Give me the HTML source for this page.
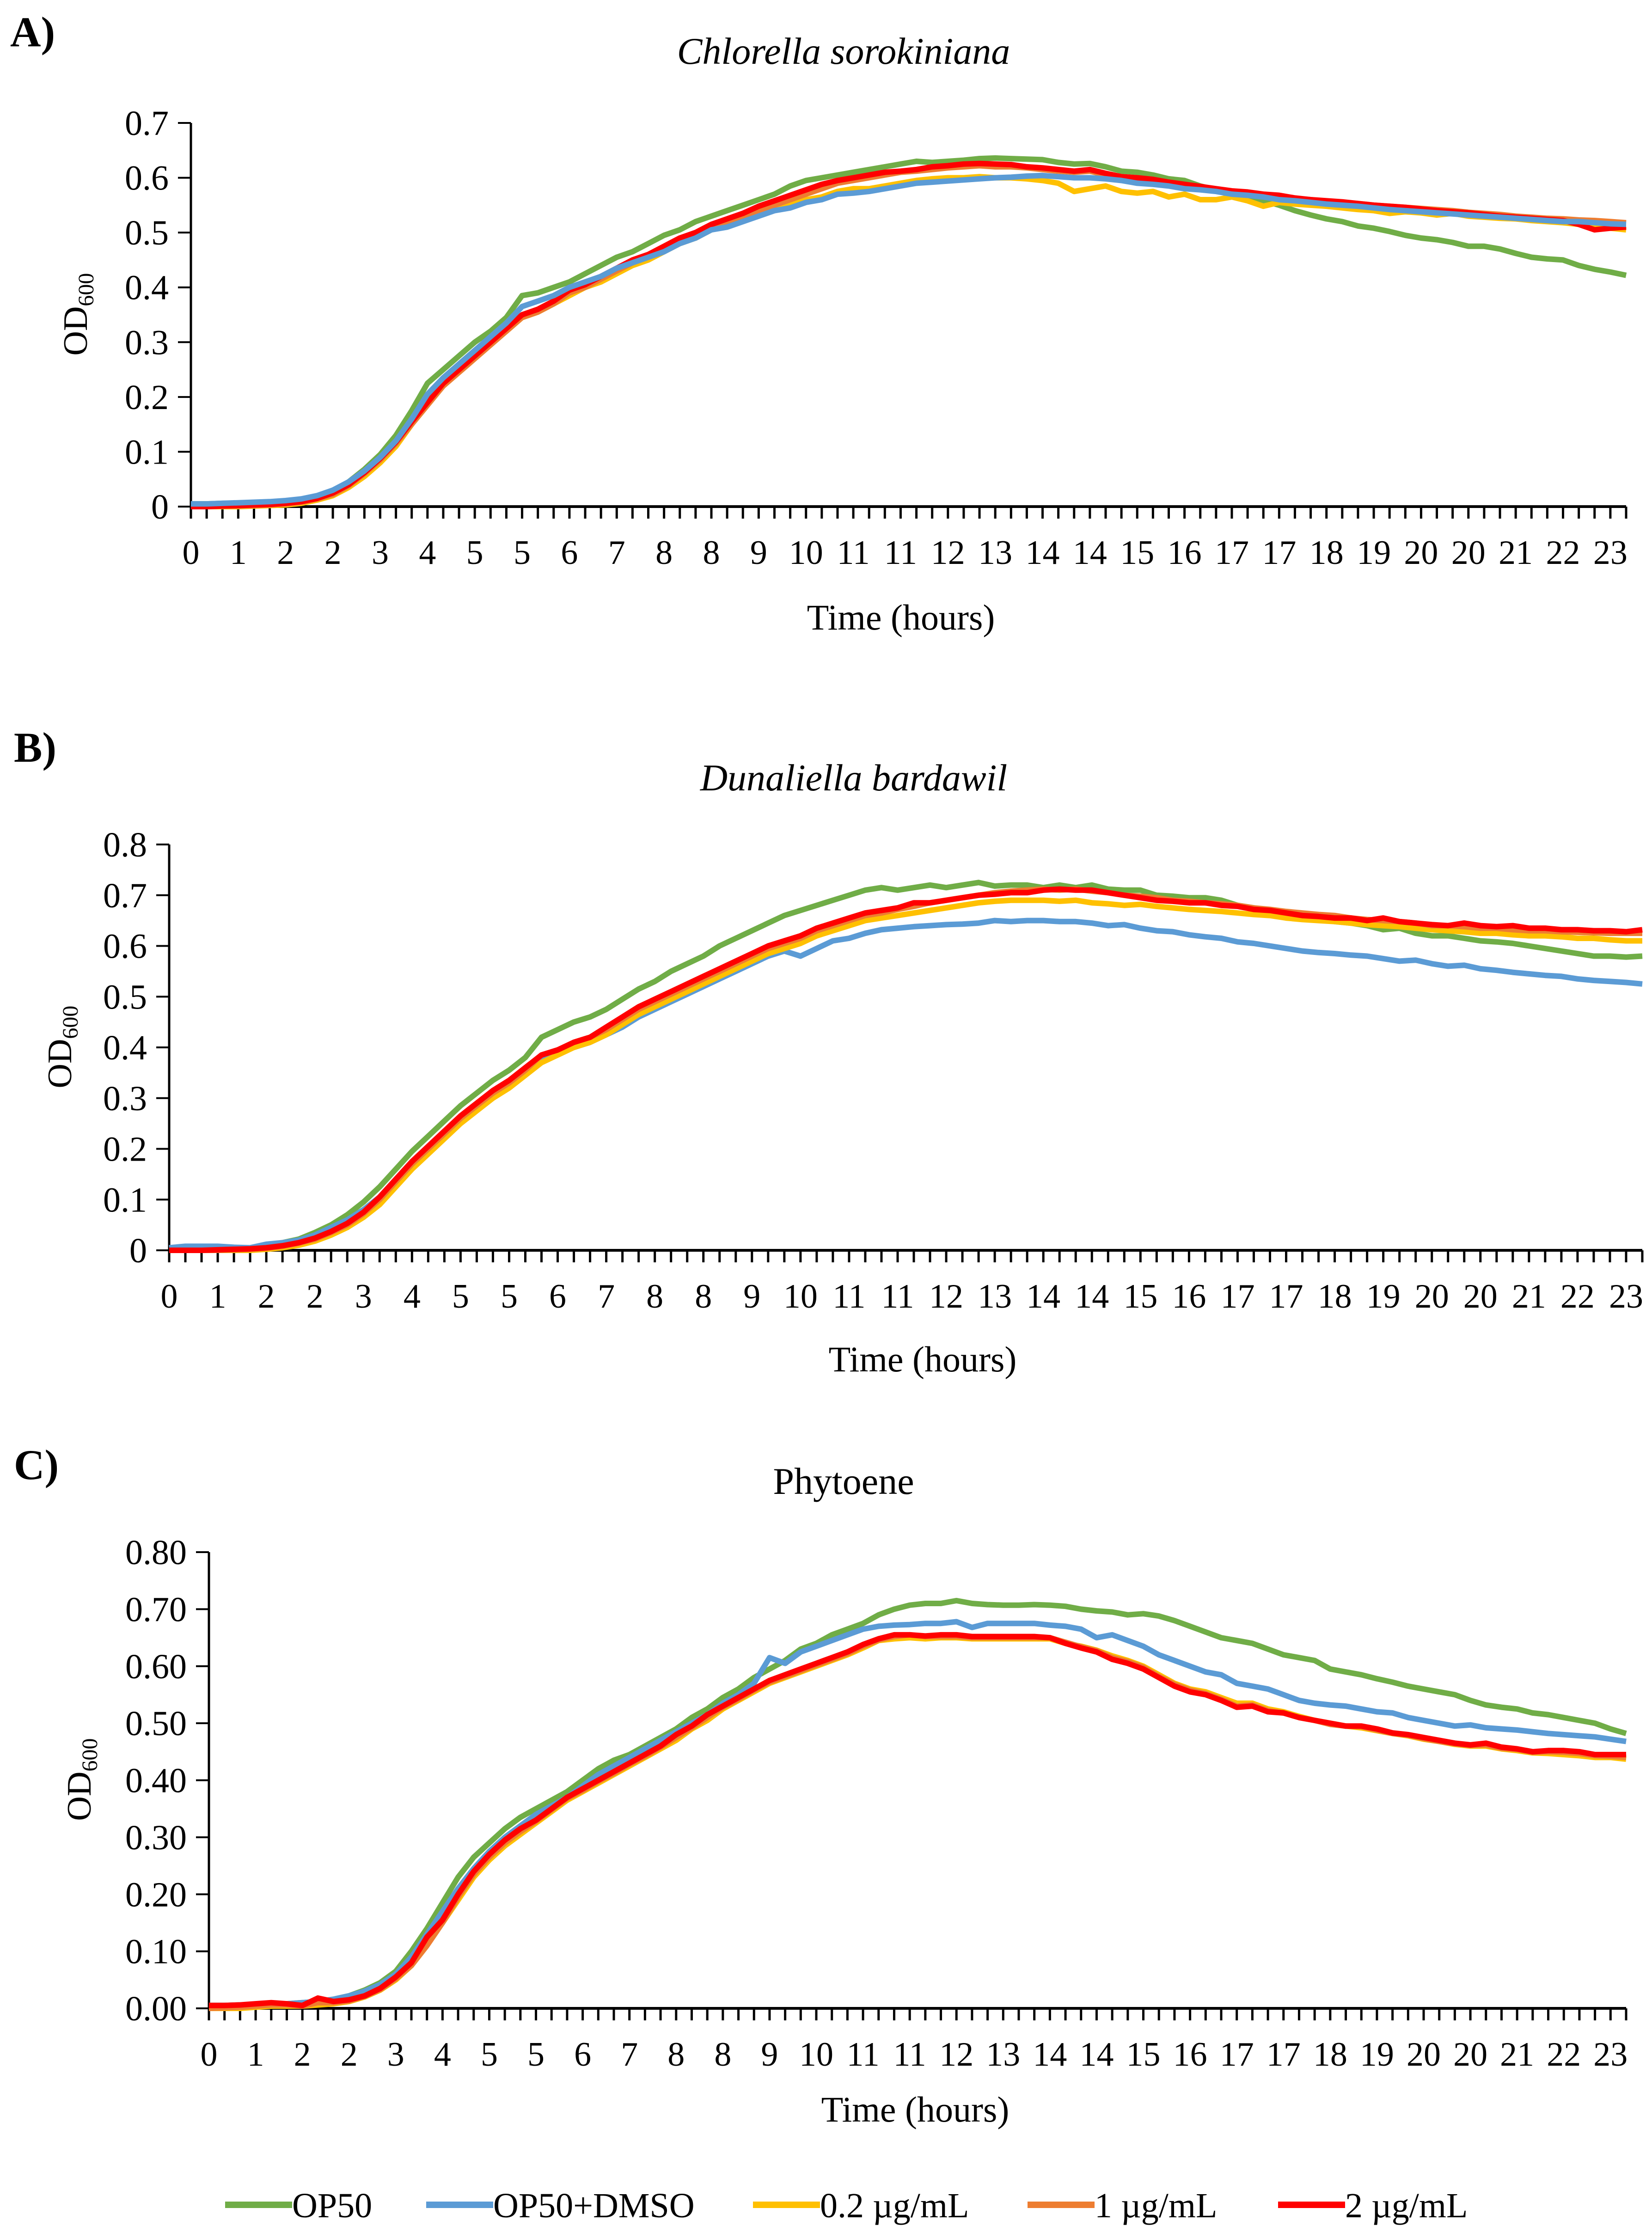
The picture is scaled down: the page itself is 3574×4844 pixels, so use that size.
<!DOCTYPE html>
<html><head><meta charset="utf-8"><style>
html,body{margin:0;padding:0;background:#fff;}
svg{display:block;font-family:"Liberation Serif",serif;}
text{font-family:"Liberation Serif",serif;}
</style></head><body>
<svg id="fig" width="3574" height="4844" viewBox="0 0 3574 4844" xmlns="http://www.w3.org/2000/svg">
<text x="22" y="100" font-size="92" font-weight="bold">A)</text>
<text x="30" y="1648" font-size="92" font-weight="bold">B)</text>
<text x="30" y="3200" font-size="92" font-weight="bold">C)</text>
<text x="1825" y="138" font-size="82" font-style="italic" text-anchor="middle">Chlorella sorokiniana</text>
<text x="1847" y="1710" font-size="82" font-style="italic" text-anchor="middle">Dunaliella bardawil</text>
<text x="1825" y="3232" font-size="82" text-anchor="middle">Phytoene</text>
<g id="legend"></g>
</svg>
<script>
const hoursPerPoint = 0.25;
const seriesNames = ["OP50","OP50+DMSO","0.2 µg/mL","1 µg/mL","2 µg/mL"];
const seriesColors = ["#70AD47","#5B9BD5","#FFC000","#ED7D31","#FF0000"];

const aGreen=[0.005,0.005,0.006,0.006,0.007,0.008,0.009,0.012,0.018,0.028,0.045,0.068,0.095,0.13,0.175,0.225,0.25,0.275,0.30,0.32,0.345,0.385,0.39,0.40,0.41,0.425,0.44,0.455,0.465,0.48,0.495,0.505,0.52,0.53,0.54,0.55,0.56,0.57,0.585,0.595,0.60,0.605,0.61,0.615,0.62,0.625,0.63,0.628,0.63,0.632,0.635,0.636,0.635,0.634,0.633,0.628,0.625,0.626,0.62,0.612,0.61,0.605,0.598,0.595,0.585,0.578,0.572,0.565,0.558,0.55,0.54,0.532,0.525,0.52,0.512,0.508,0.502,0.495,0.49,0.487,0.482,0.475,0.475,0.47,0.462,0.455,0.452,0.45,0.44,0.433,0.428,0.422];
const aBlue=[0.005,0.005,0.006,0.007,0.008,0.009,0.011,0.014,0.02,0.03,0.045,0.065,0.09,0.12,0.16,0.205,0.235,0.26,0.285,0.31,0.335,0.365,0.375,0.385,0.40,0.41,0.42,0.435,0.445,0.455,0.465,0.48,0.49,0.505,0.51,0.52,0.53,0.54,0.545,0.555,0.56,0.57,0.572,0.575,0.58,0.585,0.59,0.592,0.594,0.596,0.598,0.60,0.601,0.603,0.604,0.602,0.60,0.60,0.598,0.595,0.59,0.588,0.585,0.58,0.578,0.575,0.57,0.568,0.565,0.56,0.558,0.555,0.552,0.55,0.548,0.545,0.542,0.54,0.538,0.536,0.534,0.532,0.53,0.528,0.526,0.524,0.522,0.52,0.52,0.518,0.516,0.515];
const aYellow=[0,0,0,0,0.001,0.002,0.003,0.006,0.012,0.02,0.035,0.055,0.08,0.11,0.15,0.19,0.225,0.25,0.275,0.30,0.32,0.345,0.355,0.37,0.385,0.40,0.41,0.425,0.44,0.45,0.465,0.48,0.49,0.505,0.515,0.525,0.535,0.545,0.55,0.56,0.565,0.575,0.58,0.58,0.585,0.59,0.595,0.598,0.60,0.60,0.602,0.60,0.60,0.598,0.595,0.59,0.575,0.58,0.585,0.575,0.572,0.575,0.565,0.57,0.56,0.56,0.565,0.558,0.548,0.555,0.552,0.55,0.548,0.545,0.542,0.54,0.535,0.538,0.536,0.532,0.535,0.53,0.528,0.526,0.525,0.522,0.52,0.518,0.515,0.512,0.508,0.505];
const aOrange=[0,0,0.001,0.001,0.002,0.003,0.005,0.008,0.014,0.022,0.038,0.06,0.085,0.115,0.15,0.185,0.22,0.245,0.27,0.295,0.32,0.345,0.355,0.37,0.39,0.40,0.415,0.43,0.445,0.455,0.47,0.485,0.495,0.51,0.52,0.53,0.54,0.55,0.56,0.57,0.58,0.59,0.595,0.60,0.605,0.61,0.612,0.615,0.618,0.62,0.622,0.62,0.62,0.618,0.615,0.612,0.61,0.612,0.605,0.60,0.598,0.595,0.59,0.585,0.58,0.578,0.575,0.572,0.568,0.565,0.562,0.56,0.557,0.555,0.553,0.55,0.548,0.546,0.544,0.542,0.54,0.537,0.535,0.533,0.53,0.528,0.526,0.525,0.523,0.522,0.52,0.518];
const aRed=[0,0,0.001,0.002,0.003,0.004,0.006,0.009,0.015,0.025,0.04,0.062,0.088,0.118,0.155,0.19,0.225,0.25,0.275,0.30,0.325,0.35,0.36,0.375,0.395,0.405,0.42,0.435,0.45,0.46,0.475,0.49,0.50,0.515,0.525,0.535,0.548,0.558,0.568,0.578,0.588,0.595,0.60,0.605,0.61,0.612,0.615,0.62,0.622,0.625,0.626,0.625,0.624,0.62,0.618,0.615,0.612,0.615,0.608,0.602,0.60,0.597,0.592,0.588,0.584,0.58,0.576,0.574,0.57,0.568,0.563,0.56,0.558,0.556,0.553,0.55,0.548,0.546,0.543,0.54,0.538,0.536,0.533,0.53,0.528,0.526,0.524,0.522,0.515,0.505,0.508,0.51];

const bGreen=[0.005,0.006,0.006,0.005,0.004,0.004,0.008,0.015,0.022,0.035,0.05,0.07,0.095,0.125,0.16,0.195,0.225,0.255,0.285,0.31,0.335,0.355,0.38,0.42,0.435,0.45,0.46,0.475,0.495,0.515,0.53,0.55,0.565,0.58,0.60,0.615,0.63,0.645,0.66,0.67,0.68,0.69,0.70,0.71,0.715,0.71,0.715,0.72,0.715,0.72,0.725,0.718,0.72,0.72,0.715,0.72,0.715,0.72,0.712,0.71,0.71,0.70,0.698,0.695,0.695,0.69,0.68,0.675,0.67,0.665,0.66,0.655,0.648,0.645,0.64,0.632,0.635,0.625,0.62,0.62,0.615,0.61,0.608,0.605,0.60,0.595,0.59,0.585,0.58,0.58,0.578,0.58];
const bBlue=[0.005,0.008,0.008,0.008,0.006,0.005,0.012,0.015,0.02,0.03,0.045,0.06,0.08,0.105,0.14,0.175,0.205,0.235,0.26,0.285,0.31,0.33,0.35,0.375,0.39,0.40,0.41,0.425,0.44,0.46,0.475,0.49,0.505,0.52,0.535,0.55,0.565,0.58,0.59,0.58,0.595,0.61,0.615,0.625,0.632,0.635,0.638,0.64,0.642,0.643,0.645,0.65,0.648,0.65,0.65,0.648,0.648,0.645,0.64,0.642,0.635,0.63,0.628,0.622,0.618,0.615,0.608,0.605,0.60,0.595,0.59,0.587,0.585,0.582,0.58,0.575,0.57,0.572,0.565,0.56,0.562,0.555,0.552,0.548,0.545,0.542,0.54,0.535,0.532,0.53,0.528,0.525];
const bYellow=[0,0,0,0,0,0,0.002,0.005,0.01,0.018,0.03,0.045,0.065,0.09,0.125,0.16,0.19,0.22,0.25,0.275,0.30,0.32,0.345,0.37,0.385,0.40,0.41,0.425,0.445,0.465,0.48,0.495,0.51,0.525,0.54,0.555,0.57,0.585,0.595,0.605,0.62,0.63,0.64,0.65,0.655,0.66,0.665,0.67,0.675,0.68,0.685,0.688,0.69,0.69,0.69,0.688,0.69,0.685,0.683,0.68,0.682,0.678,0.675,0.672,0.67,0.668,0.665,0.662,0.66,0.655,0.652,0.65,0.648,0.645,0.642,0.64,0.638,0.635,0.632,0.63,0.628,0.625,0.625,0.622,0.62,0.62,0.618,0.615,0.615,0.612,0.61,0.61];
const bOrange=[0,0,0,0,0.001,0.002,0.004,0.008,0.014,0.022,0.035,0.05,0.072,0.10,0.135,0.17,0.20,0.23,0.26,0.285,0.31,0.33,0.355,0.385,0.395,0.41,0.42,0.435,0.455,0.475,0.49,0.505,0.52,0.535,0.55,0.565,0.58,0.595,0.605,0.615,0.63,0.64,0.65,0.66,0.665,0.672,0.678,0.685,0.69,0.695,0.70,0.705,0.708,0.71,0.712,0.71,0.712,0.708,0.705,0.70,0.698,0.695,0.69,0.688,0.685,0.683,0.68,0.675,0.672,0.668,0.665,0.662,0.66,0.655,0.652,0.65,0.648,0.645,0.64,0.64,0.638,0.635,0.635,0.632,0.63,0.63,0.628,0.627,0.626,0.625,0.625,0.625];
const bRed=[0,0,0,0.001,0.002,0.003,0.005,0.009,0.015,0.024,0.037,0.053,0.075,0.105,0.14,0.175,0.205,0.235,0.265,0.29,0.315,0.335,0.36,0.385,0.395,0.41,0.42,0.44,0.46,0.48,0.495,0.51,0.525,0.54,0.555,0.57,0.585,0.60,0.61,0.62,0.635,0.645,0.655,0.665,0.67,0.675,0.685,0.685,0.69,0.695,0.70,0.702,0.705,0.705,0.71,0.712,0.71,0.71,0.705,0.70,0.695,0.69,0.688,0.685,0.685,0.68,0.678,0.672,0.67,0.665,0.66,0.658,0.655,0.655,0.65,0.655,0.648,0.645,0.642,0.64,0.645,0.64,0.638,0.64,0.635,0.635,0.632,0.632,0.63,0.63,0.628,0.632];

const cGreen=[0.005,0.005,0.006,0.006,0.007,0.008,0.01,0.012,0.016,0.022,0.032,0.045,0.065,0.10,0.14,0.185,0.23,0.265,0.29,0.315,0.335,0.35,0.365,0.38,0.40,0.42,0.435,0.445,0.46,0.475,0.49,0.51,0.525,0.545,0.56,0.58,0.595,0.61,0.63,0.64,0.655,0.665,0.675,0.69,0.70,0.707,0.71,0.71,0.715,0.71,0.708,0.707,0.707,0.708,0.707,0.705,0.70,0.697,0.695,0.69,0.692,0.688,0.68,0.67,0.66,0.65,0.645,0.64,0.63,0.62,0.615,0.61,0.595,0.59,0.585,0.578,0.572,0.565,0.56,0.555,0.55,0.54,0.532,0.528,0.525,0.518,0.515,0.51,0.505,0.50,0.49,0.482];
const cBlue=[0.005,0.005,0.006,0.006,0.007,0.008,0.01,0.012,0.016,0.022,0.03,0.042,0.06,0.09,0.13,0.17,0.21,0.245,0.275,0.30,0.32,0.34,0.355,0.37,0.39,0.41,0.425,0.44,0.455,0.47,0.485,0.50,0.515,0.535,0.55,0.57,0.615,0.605,0.625,0.635,0.645,0.655,0.665,0.67,0.672,0.673,0.675,0.675,0.678,0.668,0.675,0.675,0.675,0.675,0.672,0.67,0.665,0.65,0.655,0.645,0.635,0.62,0.61,0.60,0.59,0.585,0.57,0.565,0.56,0.55,0.54,0.535,0.532,0.53,0.525,0.52,0.518,0.51,0.505,0.50,0.495,0.497,0.492,0.49,0.488,0.485,0.482,0.48,0.478,0.476,0.472,0.468];
const cYellow=[0,0,0,0.002,0.004,0.004,0.004,0.006,0.008,0.012,0.02,0.032,0.05,0.075,0.115,0.15,0.19,0.23,0.26,0.285,0.305,0.325,0.345,0.365,0.38,0.395,0.41,0.425,0.44,0.455,0.47,0.49,0.505,0.525,0.54,0.555,0.57,0.58,0.59,0.60,0.61,0.62,0.632,0.645,0.648,0.65,0.648,0.65,0.65,0.648,0.648,0.648,0.648,0.648,0.648,0.64,0.635,0.628,0.618,0.61,0.60,0.585,0.57,0.56,0.555,0.545,0.535,0.535,0.525,0.52,0.512,0.505,0.50,0.495,0.492,0.487,0.482,0.478,0.472,0.468,0.463,0.46,0.46,0.455,0.452,0.448,0.447,0.445,0.443,0.44,0.44,0.437];
const cOrange=[0,0.001,0.002,0.004,0.006,0.006,0.004,0.01,0.01,0.013,0.021,0.033,0.052,0.075,0.11,0.15,0.195,0.235,0.265,0.29,0.31,0.328,0.348,0.368,0.382,0.398,0.412,0.428,0.442,0.458,0.475,0.492,0.51,0.528,0.542,0.558,0.572,0.582,0.592,0.602,0.612,0.622,0.635,0.646,0.652,0.655,0.652,0.652,0.652,0.65,0.65,0.65,0.65,0.65,0.65,0.642,0.634,0.627,0.615,0.608,0.598,0.582,0.568,0.558,0.552,0.542,0.53,0.532,0.522,0.518,0.51,0.505,0.498,0.495,0.494,0.488,0.482,0.479,0.473,0.468,0.464,0.461,0.462,0.456,0.454,0.449,0.45,0.449,0.447,0.443,0.442,0.44];
const cRed=[0.005,0.005,0.006,0.008,0.01,0.008,0.005,0.018,0.012,0.015,0.022,0.035,0.055,0.08,0.125,0.155,0.20,0.24,0.27,0.295,0.315,0.33,0.35,0.37,0.385,0.40,0.415,0.43,0.445,0.46,0.48,0.495,0.515,0.53,0.545,0.56,0.575,0.585,0.595,0.605,0.615,0.625,0.638,0.648,0.655,0.655,0.653,0.655,0.655,0.652,0.652,0.652,0.652,0.652,0.65,0.64,0.632,0.625,0.612,0.605,0.595,0.58,0.565,0.555,0.55,0.54,0.528,0.53,0.52,0.518,0.51,0.505,0.50,0.495,0.495,0.49,0.483,0.48,0.475,0.47,0.465,0.462,0.465,0.458,0.455,0.45,0.452,0.452,0.45,0.445,0.445,0.445];

const yTicksA=["0","0.1","0.2","0.3","0.4","0.5","0.6","0.7"];
const yTicksB=["0","0.1","0.2","0.3","0.4","0.5","0.6","0.7","0.8"];
const yTicksC=["0.00","0.10","0.20","0.30","0.40","0.50","0.60","0.70","0.80"];

const NS="http://www.w3.org/2000/svg";
const svg=document.getElementById('fig');
function mk(tag,attrs,parent){const e=document.createElementNS(NS,tag);for(const k in attrs)e.setAttribute(k,attrs[k]);(parent||svg).appendChild(e);return e;}

const panels=[
 {id:'a',x0:413,x1:3518,y0:1096,y1:266,ymax:0.7,ticks:yTicksA,data:[aGreen,aBlue,aYellow,aOrange,aRed],order:[0,2,3,4,1],yl:[166,680],xt:[1949,1362]},
 {id:'b',x0:366,x1:3553,y0:2705,y1:1827,ymax:0.8,ticks:yTicksB,data:[bGreen,bBlue,bYellow,bOrange,bRed],order:[0,1,2,3,4],yl:[132,2265],xt:[1996,2967]},
 {id:'c',x0:452,x1:3518,y0:4345,y1:3358,ymax:0.8,ticks:yTicksC,data:[cGreen,cBlue,cYellow,cOrange,cRed],order:[0,1,2,3,4],yl:[174,3850],xt:[1980,4590]}
];

panels.forEach(p=>{
  const n=p.data[0].length;
  const xs=i=>p.x0+i*(p.x1-p.x0)/(n-1);
  const ys=v=>p.y0-(v/p.ymax)*(p.y0-p.y1);
  const g=mk('g',{});
  
  
  p.ticks.forEach((t,k)=>{
    const v=k*0.1, y=ys(v);
    const tk=mk('line',{x1:p.x0-28,x2:p.x0,y1:y,y2:y,stroke:'#000','stroke-width':4},g);
    
    
    const tl=mk('text',{x:p.x0-48,y:y+26,'font-size':76,'text-anchor':'end'},g);
    
    
    tl.textContent=t;
  });
  for(let i=0;i<n;i++){
    const x=xs(i);
    const tk=mk('line',{x1:x,x2:x,y1:p.y0,y2:p.y0+26,stroke:'#000','stroke-width':5},g);
    
    
    if(i%3===0){
      const tl=mk('text',{x:x,y:p.y0+124,'font-size':74,'text-anchor':'middle'},g);
      
      
      tl.textContent=String(Math.floor(i*hoursPerPoint+0.5));
    }
  }
  const ya=mk('line',{x1:p.x0,x2:p.x0,y1:p.y1,y2:p.y0+2,stroke:'#000','stroke-width':5},g);
  
  
  const xa=mk('line',{x1:p.x0,x2:p.x1,y1:p.y0,y2:p.y0,stroke:'#000','stroke-width':6},g);
  
  
  p.order.forEach(s=>{
    const d=p.data[s].map((v,i)=>(i?'L':'M')+xs(i).toFixed(1)+' '+ys(v).toFixed(1)).join(' ');
    const path=mk('path',{d:d,fill:'none',stroke:seriesColors[s],'stroke-width':12,'stroke-linejoin':'round','stroke-linecap':'butt'},g);
    
    
  });
  const yt=mk('text',{transform:`translate(${p.yl[0]+22},${p.yl[1]}) rotate(-90)`,'font-size':74,'text-anchor':'middle'},g);
  
  
  yt.innerHTML='OD<tspan font-size="48" dy="14">600</tspan>';
  const xt=mk('text',{x:p.xt[0],y:p.xt[1],'font-size':78,'text-anchor':'middle'},g);
  
  
  xt.textContent='Time (hours)';
});

const lg=document.getElementById('legend');
const legX=[487,922,1629,2223,2765];
seriesNames.forEach((nm,s)=>{
  const e=mk('g',{},lg);
  
  
  mk('line',{x1:legX[s],x2:legX[s]+145,y1:4770,y2:4770,stroke:seriesColors[s],'stroke-width':14},e);
  const t=mk('text',{x:legX[s]+145,y:4797,'font-size':76,'font-family':'"Liberation Serif", serif'},e);
  t.textContent=nm;
});
</script>
</body></html>
